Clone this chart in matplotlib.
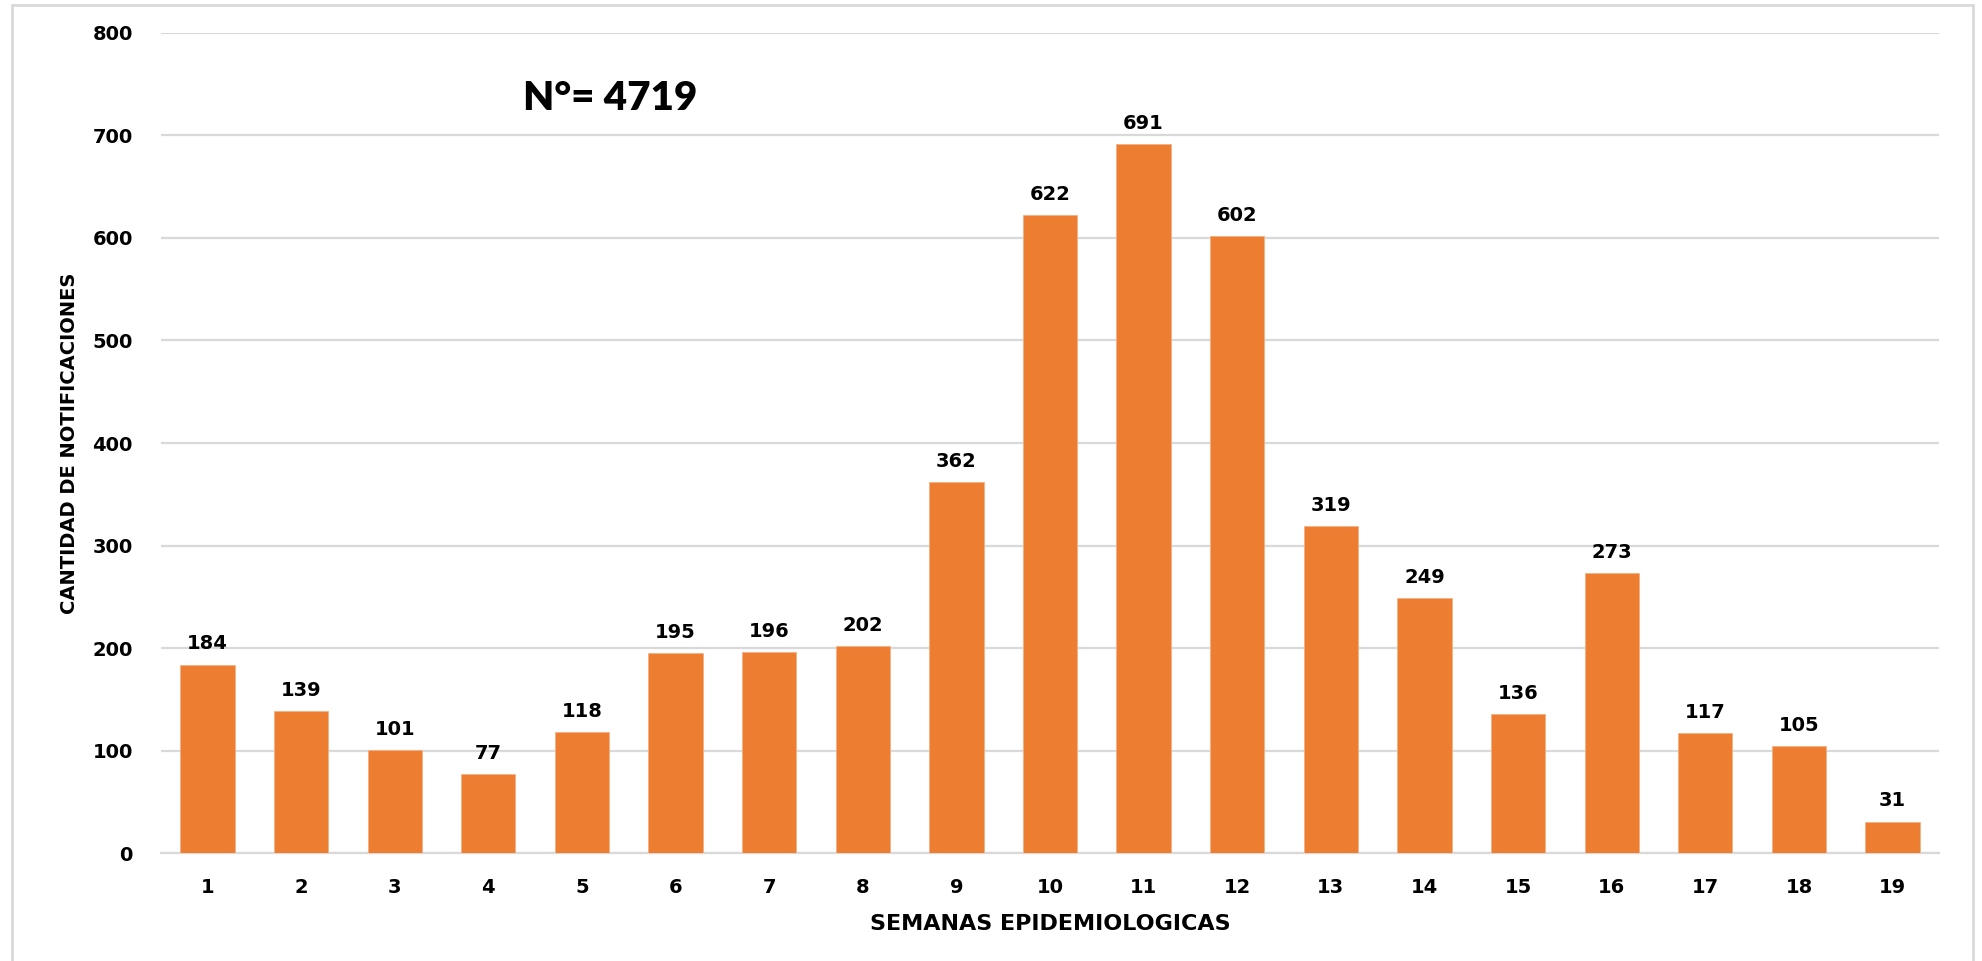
import matplotlib
matplotlib.use('Agg')
import matplotlib.pyplot as plt
from matplotlib.patches import Rectangle

plt.rcParams['font.family'] = ['DejaVu Sans']
plt.rcParams['font.weight'] = 'bold'

semanas = list(range(1, 20))
notificaciones = [184, 139, 101, 77, 118, 195, 196, 202, 362, 622,
                  691, 602, 319, 249, 136, 273, 117, 105, 31]
total_txt = 'N°= 4719'

bar_color = '#ED7D31'
grid_color = '#D9D9D9'

fig = plt.figure(figsize=(19.83, 9.61), dpi=100)
ax = fig.add_axes([0.081, 0.112, 0.897, 0.854])

bars = ax.bar(semanas, notificaciones, width=0.58, color=bar_color,
              edgecolor='#F4B183', linewidth=0.6, zorder=3)

for b, v in zip(bars, notificaciones):
    ax.annotate(str(v), (b.get_x() + b.get_width() / 2, v),
                xytext=(0, 8), textcoords='offset points',
                ha='center', va='bottom', fontsize=14, fontweight='bold')

ax.set_xlim(0.5, 19.5)
ax.set_ylim(0, 800)
ax.set_yticks(range(0, 801, 100))
ax.set_xticks(semanas)
ax.yaxis.grid(True, color=grid_color, linewidth=1.6, zorder=0)
ax.set_axisbelow(True)
for s in ['top', 'right', 'left']:
    ax.spines[s].set_visible(False)
ax.spines['bottom'].set_color(grid_color)
ax.spines['bottom'].set_linewidth(1.6)
ax.tick_params(axis='both', length=0, labelsize=14)
ax.tick_params(axis='y', pad=20)
ax.tick_params(axis='x', pad=18)

ax.set_xlabel('SEMANAS EPIDEMIOLOGICAS', fontsize=16, fontweight='bold', labelpad=12)
ax.set_ylabel('CANTIDAD DE NOTIFICACIONES', fontsize=14, fontweight='bold', labelpad=10)

fig.text(610 / 1983, 1 - 99 / 961, total_txt, fontsize=29, fontweight='heavy',
         family='Lato', ha='center', va='center')

# outer chart frame
fig.patches.append(Rectangle((12 / 1983, -0.05), (1973 - 12) / 1983, 1 - 5 / 961 + 0.05,
                             transform=fig.transFigure, fill=False,
                             edgecolor=grid_color, linewidth=2))

fig.savefig('out.png', dpi=100)
